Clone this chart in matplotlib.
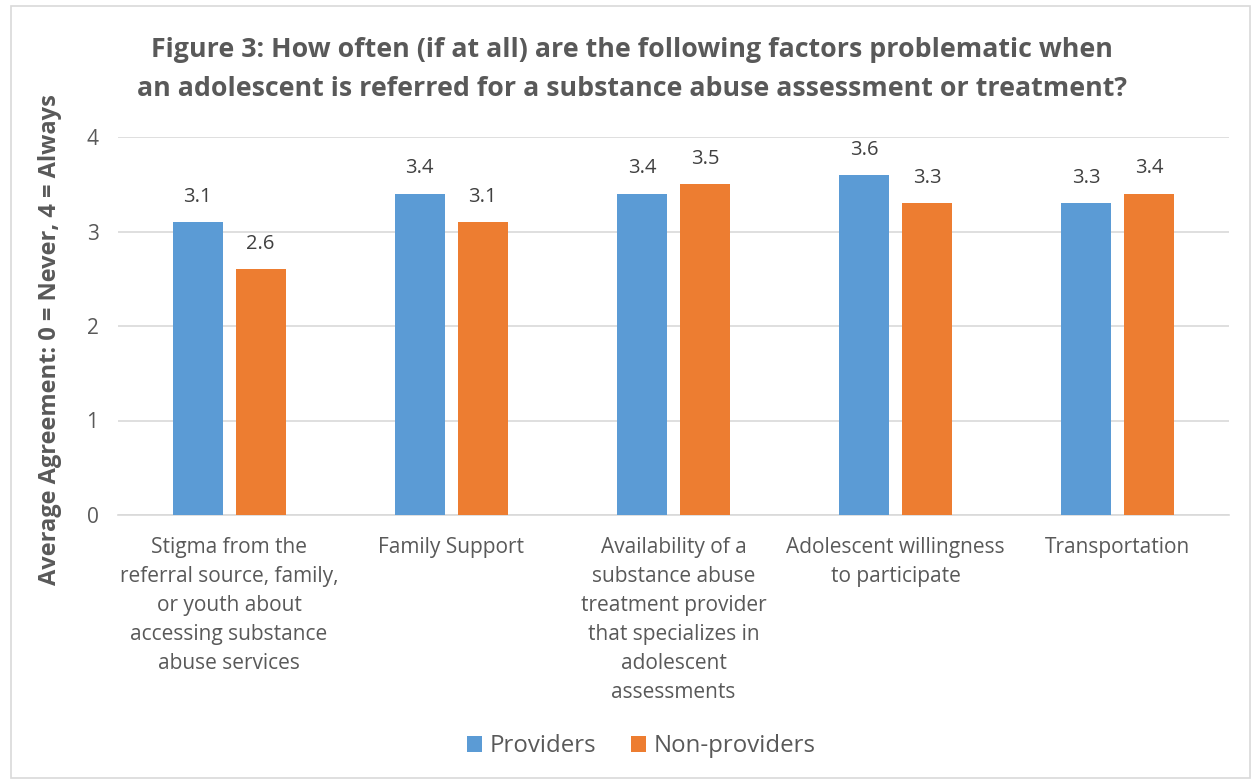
import matplotlib
matplotlib.use("Agg")
import matplotlib.pyplot as plt
import numpy as np
from matplotlib.patches import Rectangle

categories = [
    "Stigma from the\nreferral source, family,\nor youth about\naccessing substance\nabuse services",
    "Family Support",
    "Availability of a\nsubstance abuse\ntreatment provider\nthat specializes in\nadolescent\nassessments",
    "Adolescent willingness\nto participate",
    "Transportation",
]
providers = [3.1, 3.4, 3.4, 3.6, 3.3]
non_providers = [2.6, 3.1, 3.5, 3.3, 3.4]
series_names = ["Providers", "Non-providers"]
yticks = [0, 1, 2, 3, 4]

plt.rcParams['font.family'] = ['Open Sans', 'DejaVu Sans']
gray = "#595959"
blue = "#5B9BD5"
orange = "#ED7D31"

fig = plt.figure(figsize=(12.57, 7.82), dpi=100)
ax = fig.add_axes([118/1257, 1-515/782, (1229-118)/1257, (515-137)/782])

x = np.arange(len(categories))
w = 0.225
off = 0.142
b1 = ax.bar(x - off, providers, w, color=blue, label=series_names[0], zorder=3)
b2 = ax.bar(x + off, non_providers, w, color=orange, label=series_names[1], zorder=3)
for bars, vals in ((b1, providers), (b2, non_providers)):
    for r, v in zip(bars, vals):
        ax.annotate(f"{v:.1f}", (r.get_x() + r.get_width()/2, v), xytext=(0, 11),
                    textcoords="offset points", ha="center", va="bottom",
                    fontsize=14.5, color="#404040")

ax.set_xlim(-0.5, len(categories) - 0.5)
ax.set_ylim(0, 4)
ax.set_yticks(yticks)
ax.set_yticklabels([str(t) for t in yticks], fontsize=15, color=gray)
ax.set_xticks(x)
ax.set_xticklabels(categories, fontsize=15, color=gray, linespacing=1.5, va="top")
ax.tick_params(axis="both", length=0)
ax.tick_params(axis="x", pad=16)
ax.tick_params(axis="y", pad=14)
ax.grid(axis="y", color="#D9D9D9", linewidth=1.2, zorder=0)
for s in ["top", "right", "left"]:
    ax.spines[s].set_visible(False)
ax.spines["bottom"].set_color("#D9D9D9")
ax.spines["bottom"].set_linewidth(1.2)

ax.set_ylabel("Average Agreement: 0 = Never, 4 = Always", fontsize=17,
              fontweight="bold", color=gray)
ax.yaxis.set_label_coords(-0.050, 0.463)

fig.text(0.5025, 0.911, "Figure 3: How often (if at all) are the following factors problematic when\n"
         "an adolescent is referred for a substance abuse assessment or treatment?",
         ha="center", va="center", fontsize=19.3, fontweight="bold", color=gray,
         linespacing=1.62)

leg = fig.legend(handles=[b1, b2], labels=series_names, loc="center",
                 bbox_to_anchor=(0.51, 0.046), ncol=2, frameon=False,
                 fontsize=17.3, handlelength=0.65, handleheight=0.65,
                 handletextpad=0.3, columnspacing=1.45)
for t in leg.get_texts():
    t.set_color(gray)

fig.patches.append(Rectangle((11/1257, 4/782), (1250-11)/1257, (776-4)/782,
                             transform=fig.transFigure, fill=False,
                             edgecolor="#D9D9D9", linewidth=1.2))

fig.savefig("out.png", dpi=100)
